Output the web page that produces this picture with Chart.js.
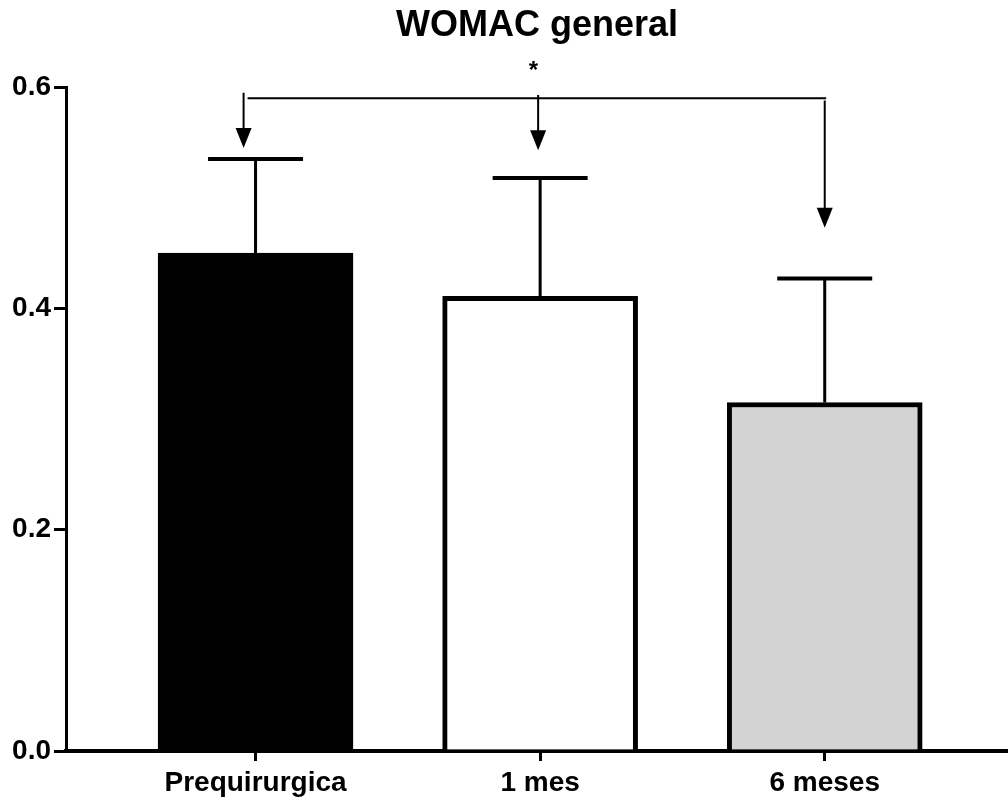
<!DOCTYPE html>
<html>
<head>
<meta charset="utf-8">
<title>WOMAC general</title>
<script src="https://cdn.jsdelivr.net/npm/chart.js@4/dist/chart.umd.min.js"></script>
<style>
  html, body { margin: 0; padding: 0; background: #ffffff; }
  #wrap { width: 1008px; height: 798px; position: relative; }
</style>
</head>
<body>
<div id="wrap"><canvas id="chart"></canvas></div>
<script>
// Groups and their mean WOMAC score with the upper error (SD)
const categories = ['Prequirurgica', '1 mes', '6 meses'];
const means = [0.450, 0.411, 0.315];
const errors = [0.085, 0.107, 0.112];
const barColors = ['#000000', '#ffffff', '#d3d3d3'];

// y-axis ticks
const yTicks = [0.0, 0.2, 0.4, 0.6];

// Significance bracket: arrows from the bracket down to each group
const arrowX = [-0.042, 0.993, 2.0];
const arrowFrom = [0.595, 0.593, 0.588];
const arrowTo = [0.545, 0.543, 0.473];
const bracketSpan = [-0.028, 2.005];
const bracketLevel = 0.590;
const starLabel = '*';
const starPos = { x: 0.976, y: 0.617 };

const FONT = '"Liberation Sans", Arial, Helvetica, sans-serif';

const errorBarPlugin = {
  id: 'errorBars',
  afterDatasetsDraw(chart) {
    const ctx = chart.ctx;
    const xs = chart.scales.x, ys = chart.scales.y;
    const capHalf = 47.5;
    ctx.save();
    ctx.strokeStyle = '#000';
    means.forEach((m, i) => {
      const x = xs.getPixelForValue(i);
      const yBar = ys.getPixelForValue(m);
      const yTop = ys.getPixelForValue(m + errors[i]);
      ctx.lineWidth = 3;
      ctx.beginPath();
      ctx.moveTo(x, yBar);
      ctx.lineTo(x, yTop);
      ctx.stroke();
      ctx.lineWidth = 4;
      ctx.beginPath();
      ctx.moveTo(x - capHalf, yTop);
      ctx.lineTo(x + capHalf, yTop);
      ctx.stroke();
    });
    ctx.restore();
  }
};

const bracketPlugin = {
  id: 'bracket',
  afterDraw(chart) {
    const ctx = chart.ctx;
    const xs = chart.scales.x, ys = chart.scales.y;
    ctx.save();
    ctx.strokeStyle = '#000';
    ctx.fillStyle = '#000';
    // horizontal bracket line
    const yb = ys.getPixelForValue(bracketLevel);
    ctx.lineWidth = 2;
    ctx.beginPath();
    ctx.moveTo(xs.getPixelForValue(bracketSpan[0]), yb);
    ctx.lineTo(xs.getPixelForValue(bracketSpan[1]), yb);
    ctx.stroke();
    // arrows
    const headW = 8, headH = 20;
    arrowX.forEach((ax, i) => {
      const x = xs.getPixelForValue(ax);
      const y0 = ys.getPixelForValue(arrowFrom[i]);
      const y1 = ys.getPixelForValue(arrowTo[i]);
      ctx.lineWidth = 2;
      ctx.beginPath();
      ctx.moveTo(x, y0);
      ctx.lineTo(x, y1 - headH + 2);
      ctx.stroke();
      ctx.beginPath();
      ctx.moveTo(x - headW, y1 - headH);
      ctx.lineTo(x + headW, y1 - headH);
      ctx.lineTo(x, y1);
      ctx.closePath();
      ctx.fill();
    });
    // significance mark
    ctx.font = 'bold 24px ' + FONT;
    ctx.textAlign = 'center';
    ctx.textBaseline = 'middle';
    ctx.fillText(starLabel, xs.getPixelForValue(starPos.x), ys.getPixelForValue(starPos.y) + 3);
    ctx.restore();
  }
};

new Chart(document.getElementById('chart'), {
  type: 'bar',
  data: {
    datasets: [{
      data: means.map((v, i) => ({ x: i, y: v })),
      backgroundColor: barColors,
      borderColor: '#000000',
      borderWidth: 5,
      borderSkipped: 'start',
      barThickness: 195
    }]
  },
  options: {
    responsive: true,
    maintainAspectRatio: false,
    animation: false,
    devicePixelRatio: 1,
    layout: { padding: { top: 0, right: 0, bottom: 0, left: 0 } },
    plugins: {
      legend: { display: false },
      tooltip: { enabled: false },
      title: {
        display: true,
        fullSize: false,
        text: 'WOMAC general',
        color: '#000',
        font: { family: FONT, size: 36, weight: 'bold', lineHeight: 1.2 },
        padding: { top: 4, bottom: 40 }
      }
    },
    scales: {
      x: {
        type: 'linear',
        min: -0.666,
        max: 2.644,
        offset: false,
        z: 1,
        afterBuildTicks(scale) {
          scale.ticks = categories.map((c, i) => ({ value: i }));
        },
        afterFit(scale) { scale.height = 47; },
        grid: {
          offset: false,
          drawOnChartArea: false,
          drawTicks: true,
          tickLength: 10,
          color: '#000',
          lineWidth: 3
        },
        border: { display: true, color: '#000', width: 4 },
        ticks: {
          color: '#000',
          padding: 5,
          autoSkip: false,
          maxRotation: 0,
          font: { family: FONT, size: 28, weight: 'bold' },
          callback: (v) => categories[v] ?? ''
        }
      },
      y: {
        min: 0,
        max: 0.6,
        afterBuildTicks(scale) {
          scale.ticks = yTicks.map(v => ({ value: v }));
        },
        afterFit(scale) { scale.width = 66; },
        grid: {
          drawOnChartArea: false,
          drawTicks: true,
          tickLength: 12,
          color: '#000',
          lineWidth: 3
        },
        border: { display: true, color: '#000', width: 3 },
        ticks: {
          color: '#000',
          padding: 3,
          font: { family: FONT, size: 28, weight: 'bold' },
          callback: (v) => Number(v).toFixed(1)
        }
      }
    }
  },
  plugins: [errorBarPlugin, bracketPlugin]
});
</script>
</body>
</html>
